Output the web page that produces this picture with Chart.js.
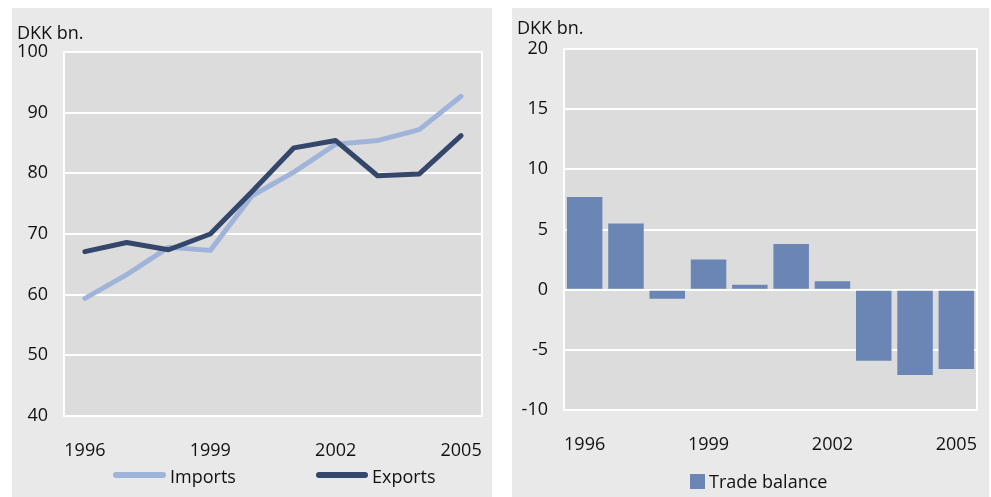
<!DOCTYPE html>
<html>
<head>
<meta charset="utf-8">
<script src="https://cdn.jsdelivr.net/npm/chart.js@4"></script>
<style>
  body { margin: 0; width: 991px; height: 497px; position: relative; overflow: hidden; background: #fff; font-family: 'Open Sans', sans-serif; color: #111; }
  .panel { position: absolute; top: 8px; height: 489px; background: #e9e9e9; }
  #leftPanel { left: 12px; width: 480px; }
  #rightPanel { left: 512px; width: 477px; }
  .panel canvas { position: absolute; left: 0; top: 0; }
  .unit { position: absolute; left: 5px; font-size: 18px; line-height: normal; white-space: nowrap; }
  .legend-item { position: absolute; font-size: 18px; line-height: normal; white-space: nowrap; }
  .swatch { position: absolute; }
</style>
</head>
<body>
<div class="panel" id="leftPanel">
  <canvas id="tradeLines" width="480" height="489"></canvas>
  <div class="unit" style="top:12px">DKK bn.</div>
  <div class="swatch" style="left:101px;top:464px;width:53px;height:6px;border-radius:3px;background:#a0b4d9"></div>
  <div class="legend-item" style="left:158px;top:456px">Imports</div>
  <div class="swatch" style="left:304px;top:464px;width:52px;height:6px;border-radius:3px;background:#34476b"></div>
  <div class="legend-item" style="left:360px;top:456px">Exports</div>
</div>
<div class="panel" id="rightPanel">
  <canvas id="tradeBalance" width="477" height="489"></canvas>
  <div class="unit" style="top:7px">DKK bn.</div>
  <div class="swatch" style="left:178px;top:466px;width:15px;height:15px;background:#6b86b5"></div>
  <div class="legend-item" style="left:197px;top:461px">Trade balance</div>
</div>

<script>
// Values
const years = ['1996', '1997', '1998', '1999', '2000', '2001', '2002', '2003', '2004', '2005'];
const imports = [59.4, 63.3, 67.8, 67.3, 76.3, 80.2, 84.8, 85.4, 87.2, 92.7];
const exports = [67.1, 68.6, 67.4, 70.0, 77.0, 84.2, 85.4, 79.6, 79.9, 86.2];
const tradeBalance = [7.7, 5.5, -0.75, 2.5, 0.4, 3.8, 0.7, -5.9, -7.1, -6.6];

const tickFont = { family: "'Open Sans', sans-serif", size: 18 };

// Grey plot area with a white frame
const plotFrame = {
    id: 'plotFrame',
    beforeDraw(chart) {
        const { ctx, chartArea: a } = chart;
        ctx.save();
        ctx.fillStyle = '#dcdcdc';
        ctx.fillRect(a.left, a.top, a.right - a.left, a.bottom - a.top);
        ctx.strokeStyle = '#ffffff';
        ctx.lineWidth = 2;
        ctx.strokeRect(a.left, a.top, a.right - a.left, a.bottom - a.top);
        ctx.restore();
    }
};

function baseOptions(yMin, yMax, step, topPad, rightPad, xHeight, xPad) {
    return {
        responsive: false,
        animation: false,
        devicePixelRatio: 1,
        layout: { padding: { top: topPad, right: rightPad, left: 0, bottom: 0 } },
        plugins: { legend: { display: false }, tooltip: { enabled: false } },
        scales: {
            x: {
                offset: true,
                grid: { display: false, drawTicks: false },
                border: { display: false },
                ticks: {
                    autoSkip: false,
                    maxRotation: 0,
                    padding: xPad,
                    color: '#111',
                    font: tickFont,
                    callback: function(value, index) {
                        return index % 3 === 0 ? this.getLabelForValue(value) : '';
                    }
                },
                afterFit: scale => {
                    scale.height = xHeight;
                    // labels sit inside the offset, no extra side padding needed
                    scale.paddingLeft = 0;
                    scale.paddingRight = 0;
                }
            },
            y: {
                min: yMin,
                max: yMax,
                grid: { color: '#ffffff', lineWidth: 2, drawTicks: false },
                border: { display: false },
                ticks: { stepSize: step, padding: 16, color: '#111', font: tickFont },
                afterFit: scale => { scale.width = 52; }
            }
        }
    };
}

new Chart(document.getElementById('tradeLines'), {
    type: 'line',
    data: {
        labels: years,
        datasets: [
            {
                label: 'Imports',
                data: imports,
                borderColor: '#a0b4d9',
                borderWidth: 5,
                pointRadius: 0,
                tension: 0,
                borderCapStyle: 'round',
                borderJoinStyle: 'round',
                order: 1
            },
            {
                label: 'Exports',
                data: exports,
                borderColor: '#34476b',
                borderWidth: 5,
                pointRadius: 0,
                tension: 0,
                borderCapStyle: 'round',
                borderJoinStyle: 'round',
                order: 0
            }
        ]
    },
    options: baseOptions(40, 100, 10, 44, 10, 81, 24),
    plugins: [plotFrame]
});

new Chart(document.getElementById('tradeBalance'), {
    type: 'bar',
    data: {
        labels: years,
        datasets: [{
            label: 'Trade balance',
            data: tradeBalance,
            backgroundColor: '#6b86b5',
            borderWidth: 0,
            barPercentage: 0.86,
            categoryPercentage: 1
        }]
    },
    options: baseOptions(-10, 20, 5, 41, 12, 87, 24),
    plugins: [plotFrame]
});
</script>
</body>
</html>
